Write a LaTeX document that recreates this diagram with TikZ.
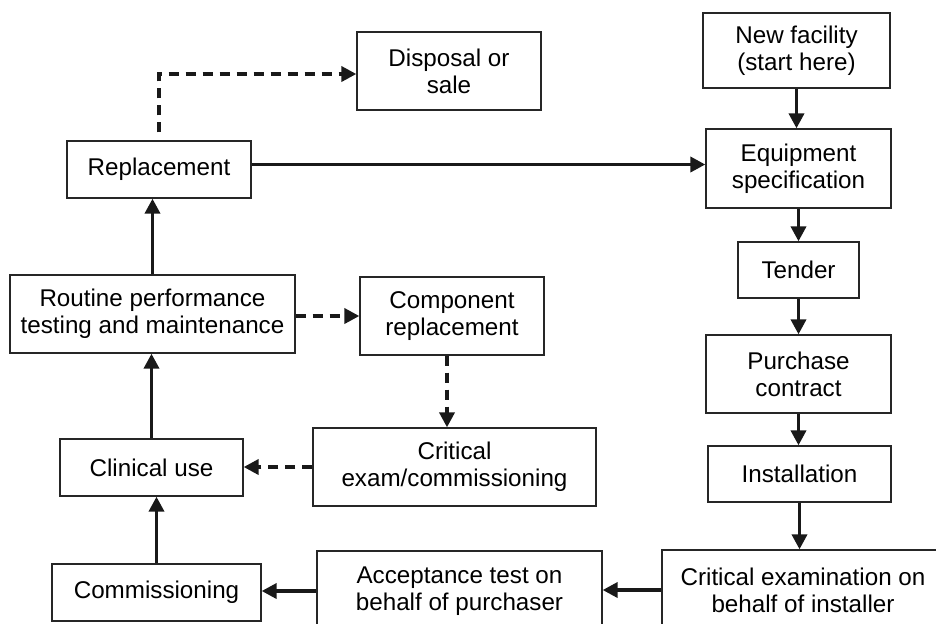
\documentclass[tikz,border=0pt]{standalone}
\usepackage{fontspec}
\setmainfont{Liberation Sans}
\usetikzlibrary{arrows.meta}

\begin{document}
\begin{tikzpicture}[x=0.5pt,y=-0.5pt,
	box/.style={draw=black!85,line width=0.65pt,align=center,inner sep=0pt,font=\fontsize{12.1}{13.4}\selectfont},
	arr/.style={line width=1.8pt,black!90,-{Triangle[length=7.5pt,width=7.5pt]}},
	darr/.style={arr,dash pattern=on 5pt off 3.5pt}]
	\clip (0,0) rectangle (936,623);
	% right column
	\node[box,minimum width=93.5pt,minimum height=37.5pt] (newfac) at (796.5,50.5) {New facility\\(start here)};
	\node[box,minimum width=92.5pt,minimum height=39.5pt] (equip) at (798.5,168.5) {Equipment\\specification};
	\node[box,minimum width=60.5pt,minimum height=28pt] (tender) at (798.5,270) {Tender};
	\node[box,minimum width=92.5pt,minimum height=39pt] (purchase) at (798.5,374) {Purchase\\contract};
	\node[box,minimum width=91.5pt,minimum height=28pt] (install) at (799.5,474) {Installation};
	\node[box,minimum width=141pt,minimum height=40pt] (critinst) at (803,590) {Critical examination on\\behalf of installer};
	% middle column
	\node[box,minimum width=92pt,minimum height=39pt] (disposal) at (449,71) {Disposal or\\sale};
	\node[box,minimum width=92pt,minimum height=39pt] (component) at (452,316) {Component\\replacement};
	\node[box,minimum width=141.5pt,minimum height=39pt] (critexam) at (454.5,467) {Critical\\exam/commissioning};
	\node[box,minimum width=142.5pt,minimum height=40pt] (accept) at (459.5,591) {Acceptance test on\\behalf of purchaser};
	% left column
	\node[box,minimum width=92pt,minimum height=28.5pt] (replace) at (159,169.5) {Replacement};
	\node[box,minimum width=142.5pt,minimum height=39pt] (routine) at (152.5,314) {Routine performance\\testing and maintenance};
	\node[box,minimum width=91.5pt,minimum height=28.5pt] (clinical) at (151.5,467.5) {Clinical use};
	\node[box,minimum width=104.5pt,minimum height=28.5pt] (commission) at (156.5,592.5) {Commissioning};
	% arrows
	\draw[arr] (newfac.south) -- (newfac.south |- equip.north);
	\draw[arr] (equip.south) -- (equip.south |- tender.north);
	\draw[arr] (tender.south) -- (tender.south |- purchase.north);
	\draw[arr] (purchase.south) -- (purchase.south |- install.north);
	\draw[arr] (install.south) -- (install.south |- critinst.north);
	\draw[arr] (critinst.west) -- (critinst.west -| accept.east);
	\draw[arr] (accept.west) -- (accept.west -| commission.east);
	\draw[arr] (commission.north) -- (commission.north |- clinical.south);
	\draw[arr] (clinical.north) -- (clinical.north |- routine.south);
	\draw[arr] (routine.north) -- (routine.north |- replace.south);
	\draw[arr] ([yshift=2.5pt]replace.east) -- ([yshift=2.5pt]replace.east -| equip.west);
	\draw[darr,shorten <=4pt] (replace.north) |- ([yshift=-1.5pt]disposal.west);
	\draw[darr] (routine.east |- component.west) -- (component.west);
	\draw[darr] ([xshift=-2.5pt]component.south) -- ([xshift=-2.5pt]component.south |- critexam.north);
	\draw[darr] (critexam.west) -- (critexam.west -| clinical.east);
\end{tikzpicture}
\end{document}
